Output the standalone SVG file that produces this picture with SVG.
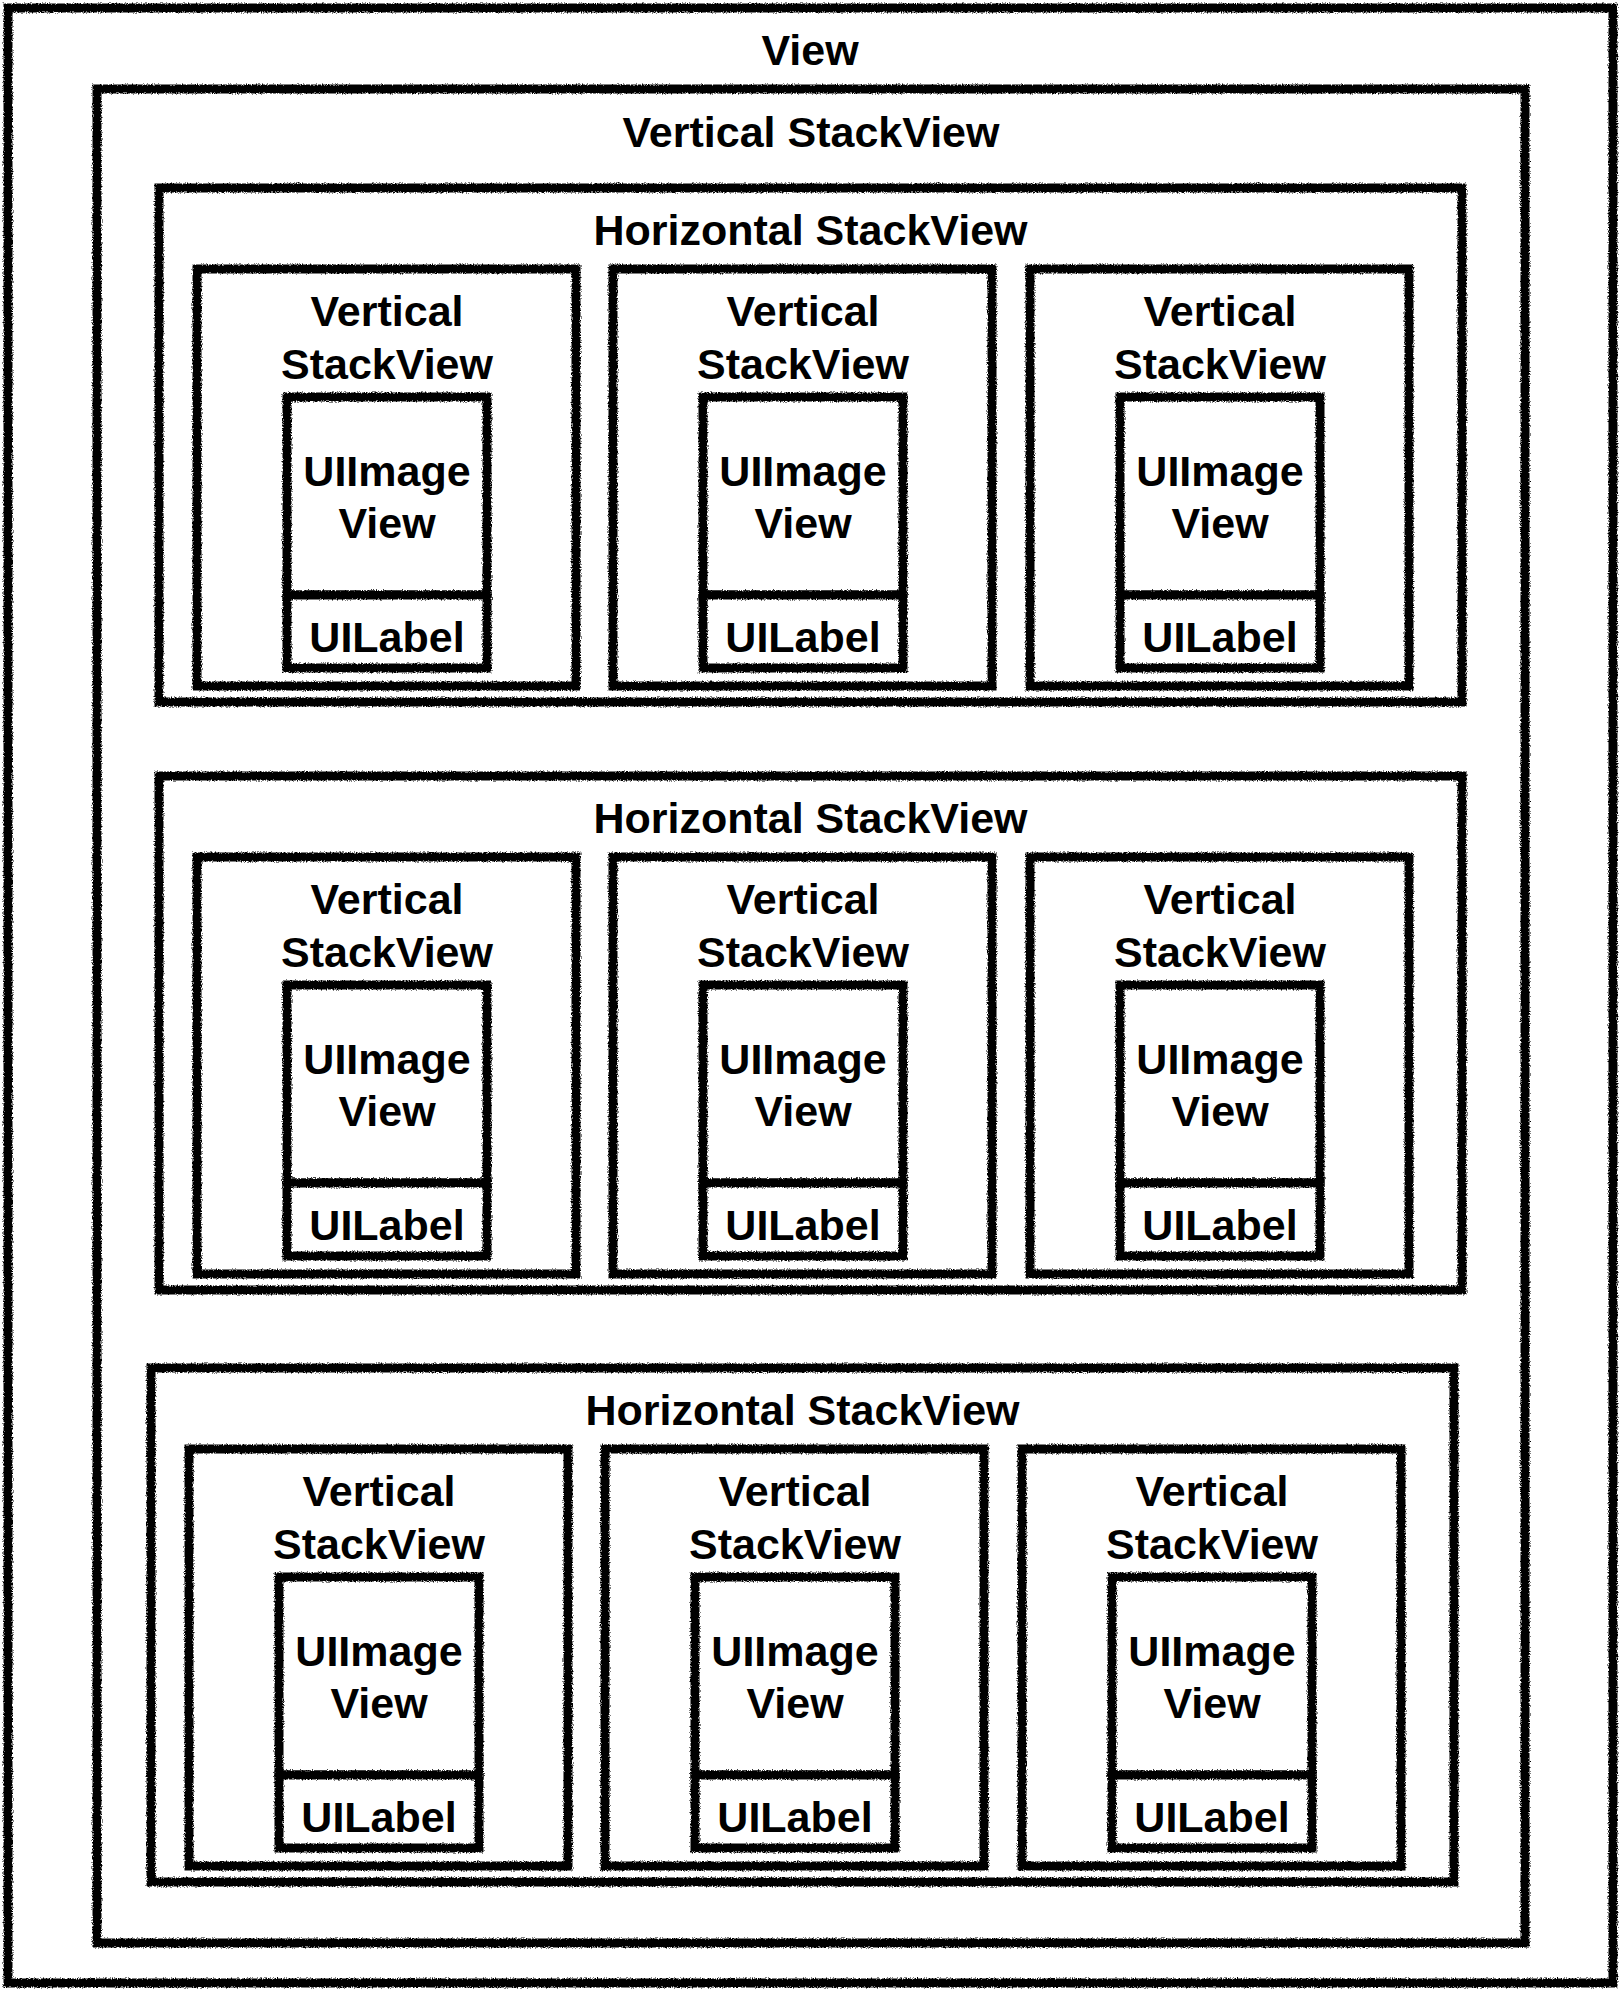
<svg xmlns="http://www.w3.org/2000/svg" width="1620" height="1990" viewBox="0 0 1620 1990">
<style>
.box{fill:#fff;stroke:#000;stroke-width:9;filter:url(#rough)}
.t{font-family:"Liberation Sans",Arial,Helvetica,sans-serif;font-weight:bold;font-size:43px;fill:#000;text-anchor:middle}
</style>
<defs>
<filter id="rough" filterUnits="userSpaceOnUse" x="0" y="0" width="1620" height="1990">
<feTurbulence type="fractalNoise" baseFrequency="0.8" numOctaves="2" seed="5" result="n"/>
<feDisplacementMap in="SourceGraphic" in2="n" scale="4" xChannelSelector="R" yChannelSelector="G"/>
</filter>
</defs>
<rect width="1620" height="1990" fill="#fff"/>
<g id="view">
<rect class="box" x="8" y="8" width="1605" height="1975"/>
<text class="t" x="810" y="65">View</text>
</g>
<g id="vstack-main">
<rect class="box" x="97" y="89" width="1428" height="1854"/>
<text class="t" x="811" y="147">Vertical StackView</text>
</g>

<g id="hstack-1">
<rect class="box" x="159" y="188" width="1303" height="514"/>
<text class="t" x="810.5" y="245">Horizontal StackView</text>
</g>
<g id="vstack-1-1">
<rect class="box" x="197" y="269" width="379" height="417"/>
<text class="t" x="387" y="326">Vertical</text><text class="t" x="387" y="379">StackView</text>
</g>
<g id="image-1-1"><rect class="box" x="287" y="397" width="200" height="198"/><text class="t" x="387" y="486">UIImage</text><text class="t" x="387" y="538">View</text></g>
<g id="label-1-1"><rect class="box" x="287" y="595" width="200" height="73"/><text class="t" x="387" y="652">UILabel</text></g>
<g id="vstack-1-2">
<rect class="box" x="613" y="269" width="379" height="417"/>
<text class="t" x="803" y="326">Vertical</text><text class="t" x="803" y="379">StackView</text>
</g>
<g id="image-1-2"><rect class="box" x="703" y="397" width="200" height="198"/><text class="t" x="803" y="486">UIImage</text><text class="t" x="803" y="538">View</text></g>
<g id="label-1-2"><rect class="box" x="703" y="595" width="200" height="73"/><text class="t" x="803" y="652">UILabel</text></g>
<g id="vstack-1-3">
<rect class="box" x="1030" y="269" width="379" height="417"/>
<text class="t" x="1220" y="326">Vertical</text><text class="t" x="1220" y="379">StackView</text>
</g>
<g id="image-1-3"><rect class="box" x="1120" y="397" width="200" height="198"/><text class="t" x="1220" y="486">UIImage</text><text class="t" x="1220" y="538">View</text></g>
<g id="label-1-3"><rect class="box" x="1120" y="595" width="200" height="73"/><text class="t" x="1220" y="652">UILabel</text></g>

<g id="hstack-2">
<rect class="box" x="159" y="776" width="1303" height="514"/>
<text class="t" x="810.5" y="833">Horizontal StackView</text>
</g>
<g id="vstack-2-1">
<rect class="box" x="197" y="857" width="379" height="417"/>
<text class="t" x="387" y="914">Vertical</text><text class="t" x="387" y="967">StackView</text>
</g>
<g id="image-2-1"><rect class="box" x="287" y="985" width="200" height="198"/><text class="t" x="387" y="1074">UIImage</text><text class="t" x="387" y="1126">View</text></g>
<g id="label-2-1"><rect class="box" x="287" y="1183" width="200" height="73"/><text class="t" x="387" y="1240">UILabel</text></g>
<g id="vstack-2-2">
<rect class="box" x="613" y="857" width="379" height="417"/>
<text class="t" x="803" y="914">Vertical</text><text class="t" x="803" y="967">StackView</text>
</g>
<g id="image-2-2"><rect class="box" x="703" y="985" width="200" height="198"/><text class="t" x="803" y="1074">UIImage</text><text class="t" x="803" y="1126">View</text></g>
<g id="label-2-2"><rect class="box" x="703" y="1183" width="200" height="73"/><text class="t" x="803" y="1240">UILabel</text></g>
<g id="vstack-2-3">
<rect class="box" x="1030" y="857" width="379" height="417"/>
<text class="t" x="1220" y="914">Vertical</text><text class="t" x="1220" y="967">StackView</text>
</g>
<g id="image-2-3"><rect class="box" x="1120" y="985" width="200" height="198"/><text class="t" x="1220" y="1074">UIImage</text><text class="t" x="1220" y="1126">View</text></g>
<g id="label-2-3"><rect class="box" x="1120" y="1183" width="200" height="73"/><text class="t" x="1220" y="1240">UILabel</text></g>

<g id="hstack-3">
<rect class="box" x="151" y="1368" width="1303" height="514"/>
<text class="t" x="802.5" y="1425">Horizontal StackView</text>
</g>
<g id="vstack-3-1">
<rect class="box" x="189" y="1449" width="379" height="417"/>
<text class="t" x="379" y="1506">Vertical</text><text class="t" x="379" y="1559">StackView</text>
</g>
<g id="image-3-1"><rect class="box" x="279" y="1577" width="200" height="198"/><text class="t" x="379" y="1666">UIImage</text><text class="t" x="379" y="1718">View</text></g>
<g id="label-3-1"><rect class="box" x="279" y="1775" width="200" height="73"/><text class="t" x="379" y="1832">UILabel</text></g>
<g id="vstack-3-2">
<rect class="box" x="605" y="1449" width="379" height="417"/>
<text class="t" x="795" y="1506">Vertical</text><text class="t" x="795" y="1559">StackView</text>
</g>
<g id="image-3-2"><rect class="box" x="695" y="1577" width="200" height="198"/><text class="t" x="795" y="1666">UIImage</text><text class="t" x="795" y="1718">View</text></g>
<g id="label-3-2"><rect class="box" x="695" y="1775" width="200" height="73"/><text class="t" x="795" y="1832">UILabel</text></g>
<g id="vstack-3-3">
<rect class="box" x="1022" y="1449" width="379" height="417"/>
<text class="t" x="1212" y="1506">Vertical</text><text class="t" x="1212" y="1559">StackView</text>
</g>
<g id="image-3-3"><rect class="box" x="1112" y="1577" width="200" height="198"/><text class="t" x="1212" y="1666">UIImage</text><text class="t" x="1212" y="1718">View</text></g>
<g id="label-3-3"><rect class="box" x="1112" y="1775" width="200" height="73"/><text class="t" x="1212" y="1832">UILabel</text></g>
</svg>
